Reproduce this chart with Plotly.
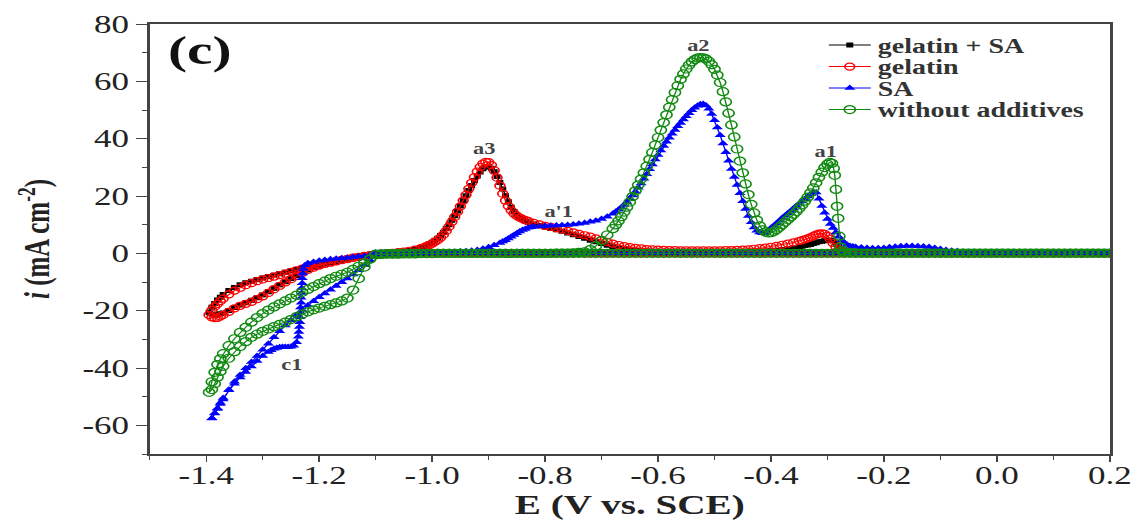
import plotly.graph_objects as go

# ---------------------------------------------------------------------------
# Cyclic voltammograms: E in V vs. SCE, current density i in mA cm-2
# ---------------------------------------------------------------------------

# Anodic (forward) sweep, shared potential grid for the gelatin baths
GEL_SCAN_E = [
    -1.10, -1.09, -1.08, -1.07, -1.06, -1.05, -1.04, -1.03, -1.02,
    -1.015, -1.010, -1.005, -1.000, -0.995, -0.990, -0.985, -0.980, -0.975, -0.970,
    -0.965, -0.960, -0.955, -0.950, -0.945, -0.940, -0.935, -0.930, -0.925, -0.920,
    -0.915, -0.910, -0.905, -0.900, -0.895, -0.890, -0.885, -0.880, -0.875, -0.870,
    -0.865, -0.860, -0.855, -0.850, -0.845, -0.840, -0.835, -0.830,
    -0.82, -0.81, -0.80, -0.79, -0.78, -0.77, -0.76, -0.75, -0.74, -0.73,
    -0.72, -0.71, -0.70, -0.69, -0.68, -0.67, -0.66, -0.65, -0.64, -0.63,
    -0.62, -0.61, -0.60, -0.59, -0.58, -0.57, -0.56, -0.55, -0.54, -0.53,
    -0.52, -0.51, -0.50, -0.49, -0.48, -0.47, -0.46, -0.45, -0.44, -0.43,
    -0.42, -0.41, -0.40, -0.39, -0.38, -0.37, -0.36, -0.35,
    -0.345, -0.340, -0.335, -0.330, -0.325, -0.320, -0.315, -0.310, -0.305, -0.300,
    -0.295, -0.290, -0.285, -0.280, -0.275, -0.270, -0.265, -0.260, -0.255, -0.250,
    -0.20, -0.15, -0.10, -0.05, 0.00, 0.05, 0.10, 0.15, 0.20,
]

GELATIN_SA_I = [
    -0.3, -0.1, 0.1, 0.3, 0.5, 0.7, 1.0, 1.5, 2.0,
    2.4, 2.8, 3.3, 3.9, 4.6, 5.3, 6.2, 7.3, 8.6, 10.0,
    11.5, 13.1, 14.8, 16.5, 18.3, 20.1, 21.9, 23.7, 25.4, 27.0,
    28.4, 29.5, 30.1, 30.2, 29.7, 28.5, 26.8, 24.7, 22.4, 20.1,
    18.0, 16.1, 14.6, 13.4, 12.5, 11.8, 11.2, 10.8,
    10.2, 9.7, 9.2, 8.7, 8.2, 7.7, 7.1, 6.5, 5.9, 5.3,
    4.6, 4.0, 3.4, 2.8, 2.3, 1.8, 1.5, 1.2, 1.0, 0.9,
    0.8, 0.7, 0.7, 0.7, 0.7, 0.7, 0.7, 0.7, 0.7, 0.7,
    0.7, 0.7, 0.7, 0.7, 0.7, 0.7, 0.7, 0.7, 0.7, 0.7,
    0.7, 0.8, 0.9, 1.1, 1.3, 1.6, 1.9, 2.3,
    2.5, 2.7, 2.9, 3.1, 3.4, 3.7, 4.0, 4.2, 4.4, 4.6,
    4.6, 4.3, 3.5, 2.5, 1.5, 0.8, 0.5, 0.4, 0.3, 0.2,
    0.1, 0.1, 0.1, 0.1, 0.0, 0.0, 0.0, 0.0, 0.0,
]

GELATIN_I = [
    -0.3, -0.1, 0.1, 0.2, 0.4, 0.6, 0.9, 1.3, 1.8,
    2.1, 2.5, 2.9, 3.4, 4.0, 4.6, 5.5, 6.5, 7.8, 9.3,
    11.0, 12.7, 14.5, 16.4, 18.4, 20.4, 22.5, 24.6, 26.6, 28.5,
    30.1, 31.3, 31.9, 31.8, 30.8, 28.9, 26.4, 23.6, 20.8, 18.4,
    16.5, 15.0, 13.9, 13.1, 12.5, 12.0, 11.6, 11.3,
    10.6, 10.1, 9.6, 9.2, 8.8, 8.4, 7.8, 7.3, 6.8, 6.3,
    5.8, 5.2, 4.6, 4.0, 3.4, 2.9, 2.5, 2.2, 1.9, 1.7,
    1.5, 1.4, 1.3, 1.2, 1.1, 1.1, 1.0, 1.0, 1.0, 1.0,
    1.0, 1.0, 1.0, 1.0, 1.1, 1.1, 1.2, 1.3, 1.4, 1.6,
    1.8, 2.0, 2.3, 2.6, 3.0, 3.4, 3.8, 4.3,
    4.6, 4.9, 5.2, 5.6, 6.1, 6.5, 6.9, 7.0, 6.8, 6.1,
    5.0, 3.6, 2.3, 1.3, 0.8, 0.5, 0.4, 0.3, 0.2, 0.2,
    0.1, 0.1, 0.1, 0.1, 0.0, 0.0, 0.0, 0.0, 0.0,
]

# Anodic sweep, SA bath
SA_SCAN_E = [
    -1.10, -1.09, -1.08, -1.07, -1.06, -1.05, -1.04, -1.03, -1.02, -1.01, -1.00, -0.99, -0.98, -0.97, -0.96,
    -0.95, -0.94, -0.93, -0.92, -0.91, -0.90, -0.89, -0.88,
    -0.875, -0.870, -0.865, -0.860, -0.855, -0.850, -0.845, -0.840, -0.835, -0.830, -0.825,
    -0.82, -0.81, -0.80, -0.79, -0.78, -0.77, -0.76, -0.75, -0.74, -0.73, -0.72, -0.71, -0.70, -0.69, -0.68,
    -0.675, -0.670, -0.665, -0.660, -0.655, -0.650, -0.645, -0.640, -0.635, -0.630,
    -0.625, -0.620, -0.615, -0.610, -0.605, -0.600, -0.595, -0.590, -0.585, -0.580,
    -0.575, -0.570, -0.565, -0.560, -0.555, -0.550, -0.545, -0.540, -0.535, -0.530,
    -0.525, -0.520, -0.515, -0.510, -0.505, -0.500, -0.495, -0.490, -0.485, -0.480,
    -0.475, -0.470, -0.465, -0.460, -0.455, -0.450, -0.445, -0.440, -0.435, -0.430,
    -0.425, -0.420, -0.415, -0.410, -0.405, -0.400, -0.395, -0.390, -0.385, -0.380,
    -0.375, -0.370, -0.365, -0.360, -0.355, -0.350, -0.345, -0.340, -0.335, -0.330,
    -0.325, -0.320, -0.315, -0.310, -0.305, -0.300, -0.295, -0.290, -0.285, -0.280,
    -0.275, -0.270, -0.265, -0.260, -0.255, -0.250,
    -0.24, -0.23, -0.22, -0.21, -0.20, -0.19, -0.18, -0.17, -0.16, -0.15,
    -0.14, -0.13, -0.12, -0.11, -0.10, -0.09, -0.08, -0.07, -0.06, -0.05,
    -0.04, -0.03, -0.02, -0.01, 0.00, 0.01, 0.02, 0.03, 0.04, 0.05,
    0.06, 0.07, 0.08, 0.09, 0.10, 0.11, 0.12, 0.13, 0.14, 0.15,
    0.16, 0.17, 0.18, 0.19, 0.20,
]

SA_I = [
    0.2, 0.2, 0.2, 0.2, 0.2, 0.3, 0.3, 0.3, 0.3, 0.3, 0.3, 0.4, 0.4, 0.4, 0.5,
    0.6, 0.7, 0.9, 1.2, 1.6, 2.1, 2.8, 3.6,
    4.1, 4.6, 5.2, 5.8, 6.4, 7.0, 7.6, 8.1, 8.5, 8.9, 9.1,
    9.3, 9.4, 9.5, 9.6, 9.7, 9.8, 9.9, 10.1, 10.3, 10.6, 11.0, 11.4, 12.0, 12.8, 13.8,
    14.5, 15.2, 16.0, 16.9, 17.9, 19.0, 20.2, 21.5, 22.9, 24.4,
    26.0, 27.6, 29.3, 31.0, 32.7, 34.3, 35.9, 37.4, 38.9, 40.3,
    41.7, 43.0, 44.3, 45.5, 46.7, 47.8, 48.9, 49.9, 50.8, 51.5,
    52.0, 52.1, 51.6, 50.4, 48.6, 46.4, 43.9, 41.2, 38.3, 35.3,
    32.3, 29.4, 26.6, 23.8, 21.0, 18.2, 15.5, 13.0, 10.8, 9.0,
    7.9, 7.3, 7.0, 7.1, 7.8, 8.8, 9.6, 10.5, 11.4, 12.3,
    13.1, 14.0, 14.8, 15.6, 16.5, 17.3, 18.1, 18.9, 19.8, 20.6,
    21.3, 21.2, 19.0, 16.5, 14.2, 12.0, 10.2, 8.8, 7.3, 5.8,
    4.6, 3.7, 3.0, 2.6, 2.4, 2.2,
    2.0, 1.9, 1.8, 1.8, 1.9, 2.1, 2.3, 2.5, 2.6, 2.6,
    2.5, 2.4, 2.2, 1.9, 1.5, 1.2, 0.9, 0.7, 0.5, 0.4,
    0.3, 0.3, 0.3, 0.3, 0.3, 0.3, 0.3, 0.3, 0.3, 0.3,
    0.3, 0.3, 0.3, 0.3, 0.3, 0.3, 0.3, 0.3, 0.3, 0.3,
    0.3, 0.3, 0.3, 0.3, 0.3,
]

# Anodic sweep, bath without additives
BARE_SCAN_E = [
    -1.10, -1.09, -1.08, -1.07, -1.06, -1.05, -1.04, -1.03, -1.02, -1.01,
    -1.00, -0.99, -0.98, -0.97, -0.96, -0.95, -0.94, -0.93, -0.92, -0.91,
    -0.90, -0.89, -0.88, -0.87, -0.86, -0.85, -0.84, -0.83, -0.82, -0.81,
    -0.80, -0.79, -0.78, -0.77, -0.76, -0.75, -0.74,
    -0.73, -0.72, -0.71, -0.70, -0.69, -0.68,
    -0.675, -0.670, -0.665, -0.660, -0.655, -0.650, -0.645, -0.640, -0.635, -0.630,
    -0.625, -0.620, -0.615, -0.610, -0.605, -0.600, -0.595, -0.590, -0.585, -0.580,
    -0.575, -0.570, -0.565, -0.560, -0.555, -0.550, -0.545, -0.540, -0.535, -0.530,
    -0.525, -0.520, -0.515, -0.510, -0.505, -0.500, -0.495, -0.490, -0.485, -0.480,
    -0.475, -0.470, -0.465, -0.460, -0.455, -0.450, -0.445, -0.440, -0.435, -0.430,
    -0.425, -0.420, -0.415, -0.410, -0.405, -0.400, -0.395, -0.390, -0.385, -0.380,
    -0.375, -0.370, -0.365, -0.360, -0.355, -0.350, -0.345, -0.340, -0.335, -0.330,
    -0.325, -0.320, -0.315, -0.310, -0.305, -0.300,
    -0.296, -0.292, -0.289, -0.287, -0.285, -0.283, -0.281, -0.279, -0.277, -0.274,
    -0.27, -0.26, -0.25,
    -0.24, -0.23, -0.22, -0.21, -0.20, -0.19, -0.18, -0.17, -0.16, -0.15,
    -0.14, -0.13, -0.12, -0.11, -0.10, -0.09, -0.08, -0.07, -0.06, -0.05,
    -0.04, -0.03, -0.02, -0.01, 0.00, 0.01, 0.02, 0.03, 0.04, 0.05,
    0.06, 0.07, 0.08, 0.09, 0.10, 0.11, 0.12, 0.13, 0.14, 0.15,
    0.16, 0.17, 0.18, 0.19, 0.20,
]

BARE_I = [
    -0.3, -0.2, -0.1, -0.1, 0.0, 0.0, 0.0, 0.0, 0.0, 0.0,
    0.0, 0.0, 0.0, 0.0, 0.0, 0.0, 0.0, 0.0, 0.0, 0.0,
    0.0, 0.0, 0.0, 0.0, 0.0, 0.0, 0.0, 0.0, 0.0, 0.0,
    0.0, 0.0, 0.1, 0.1, 0.1, 0.2, 0.3,
    0.5, 1.3, 2.6, 4.4, 6.4, 8.6,
    9.9, 11.3, 12.8, 14.4, 16.1, 17.9, 19.8, 21.8, 23.8, 25.9,
    28.1, 30.4, 32.8, 35.2, 37.8, 40.4, 43.0, 45.6, 48.3, 51.0,
    53.6, 56.1, 58.5, 60.7, 62.6, 64.3, 65.7, 66.8, 67.6, 68.1,
    68.3, 68.2, 67.8, 67.0, 65.8, 64.2, 62.2, 59.6, 56.4, 52.8,
    48.9, 44.8, 40.6, 36.4, 32.2, 28.1, 24.2, 20.5, 17.1, 14.1,
    11.6, 9.6, 8.2, 7.4, 7.1, 7.2, 7.6, 8.3, 9.1, 10.0,
    10.9, 11.8, 12.7, 13.6, 14.6, 15.7, 16.9, 18.2, 19.6, 21.1,
    22.8, 24.6, 26.5, 28.3, 29.9, 31.1,
    31.7, 31.4, 29.6, 27.2, 22.3, 16.4, 12.2, 6.0, 2.2, 0.9,
    0.5, 0.3, 0.2,
    0.1, 0.1, 0.1, 0.1, 0.1, 0.1, 0.1, 0.1, 0.1, 0.1,
    0.1, 0.1, 0.1, 0.1, 0.1, 0.1, 0.1, 0.1, 0.1, 0.1,
    0.1, 0.1, 0.1, 0.1, 0.1, 0.1, 0.1, 0.1, 0.1, 0.1,
    0.1, 0.1, 0.1, 0.1, 0.1, 0.1, 0.1, 0.1, 0.1, 0.1,
    0.1, 0.1, 0.1, 0.1, 0.1,
]

# Return sweep from +0.2 V down to -1.1 V (near-zero current in every bath)
RETURN_E = [
    0.20, 0.19, 0.18, 0.17, 0.16, 0.15, 0.14, 0.13, 0.12, 0.11,
    0.10, 0.09, 0.08, 0.07, 0.06, 0.05, 0.04, 0.03, 0.02, 0.01,
    0.00, -0.01, -0.02, -0.03, -0.04, -0.05, -0.06, -0.07, -0.08, -0.09,
    -0.10, -0.11, -0.12, -0.13, -0.14, -0.15, -0.16, -0.17, -0.18, -0.19,
    -0.20, -0.21, -0.22, -0.23, -0.24, -0.25, -0.26, -0.27, -0.28, -0.29,
    -0.30, -0.31, -0.32, -0.33, -0.34, -0.35, -0.36, -0.37, -0.38, -0.39,
    -0.40, -0.41, -0.42, -0.43, -0.44, -0.45, -0.46, -0.47, -0.48, -0.49,
    -0.50, -0.51, -0.52, -0.53, -0.54, -0.55, -0.56, -0.57, -0.58, -0.59,
    -0.60, -0.61, -0.62, -0.63, -0.64, -0.65, -0.66, -0.67, -0.68, -0.69,
    -0.70, -0.71, -0.72, -0.73, -0.74, -0.75, -0.76, -0.77, -0.78, -0.79,
    -0.80, -0.81, -0.82, -0.83, -0.84, -0.85, -0.86, -0.87, -0.88, -0.89,
    -0.90, -0.91, -0.92, -0.93, -0.94, -0.95, -0.96, -0.97, -0.98, -0.99,
    -1.00, -1.01, -1.02, -1.03, -1.04, -1.05, -1.06, -1.07, -1.08, -1.09,
    -1.10,
]

RETURN_I = [
    0.0, 0.0, 0.0, 0.0, 0.0, 0.0, 0.0, 0.0, 0.0, 0.0,
    0.0, 0.0, 0.0, 0.0, 0.0, 0.0, 0.0, 0.0, 0.0, 0.0,
    0.0, 0.0, 0.0, 0.0, 0.0, 0.0, 0.0, 0.0, 0.0, 0.0,
    0.0, 0.0, 0.0, 0.0, 0.0, 0.0, 0.0, 0.0, 0.0, 0.0,
    0.0, 0.0, 0.0, 0.0, 0.0, 0.0, 0.0, 0.0, 0.0, 0.0,
    0.0, 0.0, 0.0, 0.0, 0.0, 0.0, 0.0, 0.0, 0.0, 0.0,
    0.0, 0.0, 0.0, 0.0, 0.0, 0.0, 0.0, 0.0, 0.0, 0.0,
    0.0, 0.0, 0.0, 0.0, 0.0, 0.0, 0.0, 0.0, 0.0, 0.0,
    0.0, 0.0, 0.0, 0.0, 0.0, 0.0, 0.0, 0.0, 0.0, 0.0,
    0.0, 0.0, 0.0, 0.0, 0.0, 0.0, 0.0, 0.0, 0.0, 0.0,
    0.0, 0.0, 0.0, 0.0, 0.0, 0.0, 0.0, 0.0, 0.0, 0.0,
    0.0, 0.0, 0.0, 0.0, 0.0, 0.0, 0.0, 0.0, 0.0, 0.0,
    -0.1, -0.1, -0.1, -0.2, -0.2, -0.2, -0.3, -0.3, -0.3, -0.4,
    -0.4,
]

# Cathodic loop below -1.1 V: outgoing branch, then the way back
LOOP_OUT_E = [
    -1.10, -1.11, -1.12, -1.13, -1.14, -1.15, -1.16, -1.17, -1.18, -1.19,
    -1.20, -1.21, -1.22, -1.23, -1.24, -1.25, -1.26, -1.27, -1.28, -1.29,
    -1.30, -1.31, -1.32, -1.33, -1.34, -1.35, -1.36, -1.37,
    -1.375, -1.38, -1.385, -1.39, -1.395,
]
LOOP_BACK_E = [
    -1.39, -1.385, -1.38, -1.375,
    -1.37, -1.36, -1.35, -1.34, -1.33, -1.32, -1.31, -1.30, -1.29, -1.28,
    -1.27, -1.26, -1.25, -1.24, -1.23, -1.22, -1.21, -1.20, -1.19, -1.18,
    -1.17, -1.16, -1.15, -1.14, -1.13, -1.12, -1.11, -1.10,
]

GELATIN_SA_OUT_I = [
    -0.4, -0.7, -1.0, -1.3, -1.6, -2.0, -2.4, -2.8, -3.2, -3.6,
    -4.0, -4.4, -4.8, -5.2, -5.6, -6.1, -6.6, -7.1, -7.6, -8.1,
    -8.6, -9.1, -9.7, -10.3, -11.0, -11.9, -13.0, -14.4,
    -15.3, -16.3, -17.5, -18.8, -20.6,
]
GELATIN_SA_BACK_I = [
    -21.2, -21.5, -21.4, -21.1,
    -20.8, -19.9, -18.9, -18.0, -17.2, -16.4, -15.5, -14.5, -13.4, -12.2,
    -11.0, -9.9, -8.8, -7.8, -6.8, -5.8, -5.0, -4.3, -3.7, -3.2,
    -2.7, -2.3, -1.9, -1.5, -1.2, -0.9, -0.6, -0.3,
]

GELATIN_OUT_I = [
    -0.4, -0.7, -1.0, -1.3, -1.6, -2.0, -2.4, -2.8, -3.2, -3.6,
    -4.0, -4.4, -4.8, -5.3, -5.9, -6.5, -7.1, -7.6, -8.1, -8.6,
    -9.1, -9.7, -10.4, -11.1, -12.0, -13.0, -14.3, -15.8,
    -16.7, -17.6, -18.6, -19.8, -21.5,
]
GELATIN_BACK_I = [
    -22.3, -22.6, -22.5, -22.0,
    -21.5, -20.4, -19.2, -18.3, -17.6, -16.9, -16.0, -15.0, -13.8, -12.5,
    -11.3, -10.1, -9.0, -7.9, -6.8, -5.8, -5.0, -4.3, -3.7, -3.2,
    -2.7, -2.3, -1.9, -1.5, -1.2, -0.9, -0.6, -0.3,
]

# SA bath: sudden cathodic jump near -1.23 V (c1) on the outgoing branch
SA_OUT_E = [
    -1.10, -1.11, -1.12, -1.13, -1.14, -1.15, -1.16, -1.17, -1.18, -1.19,
    -1.20, -1.21, -1.22, -1.225, -1.228,
    -1.229, -1.230, -1.230, -1.231, -1.231, -1.232, -1.232, -1.233, -1.233, -1.234,
    -1.234, -1.235, -1.236, -1.237,
    -1.24, -1.245, -1.25, -1.255, -1.26, -1.265, -1.27, -1.275, -1.28, -1.285, -1.29,
    -1.30, -1.31, -1.32, -1.33, -1.34, -1.35, -1.36, -1.37,
    -1.375, -1.38, -1.385, -1.39,
]
SA_OUT_I = [
    -0.3, -0.6, -0.9, -1.1, -1.3, -1.5, -1.7, -1.9, -2.1, -2.3,
    -2.6, -3.0, -3.5, -4.2, -5.5,
    -7.0, -8.7, -10.4, -12.1, -13.8, -15.5, -17.2, -18.9, -20.6, -22.3,
    -24.0, -25.7, -27.4, -29.1,
    -31.0, -32.2, -32.6, -32.7, -32.7, -32.7, -32.8, -33.0, -33.3, -33.8, -34.4,
    -35.8, -37.6, -39.5, -41.4, -43.3, -45.5, -47.8, -50.5,
    -52.1, -54.0, -55.8, -57.6,
]
SA_BACK_I = [
    -57.5, -55.9, -54.3, -52.6,
    -51.0, -47.6, -44.8, -42.4, -40.1, -37.9, -35.8, -33.6, -31.5, -29.3,
    -27.2, -25.2, -23.3, -21.5, -19.8, -18.2, -16.7, -15.3, -14.0, -12.7,
    -11.4, -10.1, -8.8, -7.4, -5.9, -4.2, -2.4, -0.6,
]

BARE_OUT_I = [
    -0.5, -2.0, -3.3, -4.5, -5.6, -6.6, -7.3, -8.0, -8.8, -9.7,
    -10.6, -11.6, -12.6, -13.6, -14.6, -15.6, -16.6, -17.6, -18.7, -19.8,
    -21.0, -22.4, -24.0, -25.8, -27.6, -29.8, -32.2, -35.0,
    -36.8, -38.8, -41.5, -44.8, -48.5,
]
BARE_BACK_I = [
    -47.5, -45.5, -43.2, -41.2,
    -39.4, -36.6, -34.3, -32.5, -30.8, -29.3, -28.2, -27.2, -26.4, -25.6,
    -24.8, -24.0, -23.1, -22.1, -21.2, -20.4, -19.7, -19.1, -18.5, -17.9,
    -17.3, -16.6, -15.6, -12.8, -8.8, -4.8, -2.0, -0.5,
]

SERIES_NAMES = ["gelatin + SA", "gelatin", "SA", "without additives"]

X_TICKS = [-1.4, -1.2, -1.0, -0.8, -0.6, -0.4, -0.2, 0.0, 0.2]
X_LABELS = ["-1.4", "-1.2", "-1.0", "-0.8", "-0.6", "-0.4", "-0.2", "0.0", "0.2"]
Y_TICKS = [-60, -40, -20, 0, 20, 40, 60, 80]
Y_LABELS = ["-60", "-40", "-20", "0", "20", "40", "60", "80"]

PEAK_LABELS = ["a3", "a'1", "a2", "a1", "c1"]
PEAK_LABEL_E = [-0.908, -0.777, -0.529, -0.303, -1.248]
PEAK_LABEL_I = [36.6, 14.7, 72.6, 35.6, -38.7]


def cycle(scan_e, scan_i, out_e, out_i, back_e, back_i):
    """Join forward sweep, return sweep and cathodic loop into one path."""
    e, i = [], []
    for seg_e, seg_i in ((scan_e, scan_i), (RETURN_E, RETURN_I),
                         (out_e, out_i), (back_e, back_i)):
        for a, b in zip(seg_e, seg_i, strict=True):
            e.append(a)
            i.append(b)
    return e, i


curves = [
    cycle(GEL_SCAN_E, GELATIN_SA_I, LOOP_OUT_E, GELATIN_SA_OUT_I, LOOP_BACK_E, GELATIN_SA_BACK_I),
    cycle(GEL_SCAN_E, GELATIN_I, LOOP_OUT_E, GELATIN_OUT_I, LOOP_BACK_E, GELATIN_BACK_I),
    cycle(SA_SCAN_E, SA_I, SA_OUT_E, SA_OUT_I, LOOP_BACK_E, SA_BACK_I),
    cycle(BARE_SCAN_E, BARE_I, LOOP_OUT_E, BARE_OUT_I, LOOP_BACK_E, BARE_BACK_I),
]

GREEN = "#118a11"
colors = ["#000000", "#ff0000", "#0000ff", GREEN]
markers = [
    dict(symbol="square", size=5, color="#000000"),
    dict(symbol="circle-open", size=7, color="#ff0000", line=dict(width=1.2, color="#ff0000")),
    dict(symbol="triangle-up", size=7, color="#0000ff"),
    dict(symbol="circle-open", size=8, color=GREEN, line=dict(width=1.2, color=GREEN)),
]
legend_ids = ["legend", "legend2", "legend3", "legend4"]
legend_y = [0.951, 0.901, 0.851, 0.801]

SERIF = "Liberation Serif"
PAGE_W, PAGE_H = 1137, 520
STRETCH = 1.40           # horizontal scale applied to the whole figure
FIG_W = round(PAGE_W / STRETCH)
SCALE_X = (PAGE_W - 0.6) / FIG_W

fig = go.Figure()
for (e, i), name, col, mk, lg in zip(curves, SERIES_NAMES, colors, markers, legend_ids):
    fig.add_trace(go.Scatter(
        x=e, y=i, name=name, mode="lines+markers",
        line=dict(color=col, width=1),
        marker=mk, legend=lg,
    ))

for txt, ex, iy in zip(PEAK_LABELS, PEAK_LABEL_E, PEAK_LABEL_I):
    fig.add_annotation(x=ex, y=iy, text=txt, showarrow=False,
                       font=dict(family=SERIF, size=16, color="#444444", weight="bold"))

fig.add_annotation(x=-1.412, y=71.0, text="(c)", showarrow=False,
                   font=dict(family=SERIF, size=41, color="#111111", weight="bold"))

axis_common = dict(
    showline=True, mirror=True, linecolor="#444444", linewidth=1.5,
    showgrid=False, zeroline=False, ticks="outside", tickwidth=1.3,
    tickcolor="#444444", tickfont=dict(family=SERIF, size=25, color="#222222"),
    automargin=False,
)

fig.update_xaxes(
    range=[-1.5, 0.2], tickmode="array", tickvals=X_TICKS, ticktext=X_LABELS,
    ticklen=6, ticklabelstandoff=-8,
    minor=dict(tickmode="linear", tick0=-1.5, dtick=0.1, ticks="outside",
               ticklen=4, tickcolor="#444444", tickwidth=1.3),
    title=dict(text="E (V vs. SCE)", standoff=14,
               font=dict(family=SERIF, size=28, color="#222222", weight="bold")),
    **axis_common,
)
fig.update_yaxes(
    range=[-70, 80], tickmode="array", tickvals=Y_TICKS, ticktext=Y_LABELS,
    ticklen=8,
    minor=dict(tickmode="linear", tick0=-70, dtick=10, ticks="outside",
               ticklen=4, tickcolor="#444444", tickwidth=1.3),
    title=dict(text="<i>i</i> (mA cm<sup>-2</sup>)", standoff=16,
               font=dict(family=SERIF, size=25, color="#222222", weight="bold")),
    **axis_common,
)

legend_common = dict(
    x=0.700, xanchor="left", yanchor="middle", bgcolor="rgba(0,0,0,0)",
    borderwidth=0, font=dict(family=SERIF, size=20, color="#333333", weight="bold"),
)
fig.update_layout(
    width=FIG_W, height=PAGE_H,
    margin=dict(l=150 / SCALE_X, r=26 / SCALE_X, t=24, b=66),
    paper_bgcolor="white", plot_bgcolor="white",
    showlegend=True,
    legend=dict(y=legend_y[0], **legend_common),
    legend2=dict(y=legend_y[1], **legend_common),
    legend3=dict(y=legend_y[2], **legend_common),
    legend4=dict(y=legend_y[3], **legend_common),
)

stretch_js = (
    "document.documentElement.style.overflow='hidden';"
    "document.body.style.overflow='hidden';"
    "document.body.style.margin='0';"
    "var gd=document.getElementById('{plot_id}');"
    "gd.style.transformOrigin='0 0';"
    "gd.style.transform='scaleX(%.5f)';" % SCALE_X
)
fig.write_html("out.html", post_script=stretch_js)
